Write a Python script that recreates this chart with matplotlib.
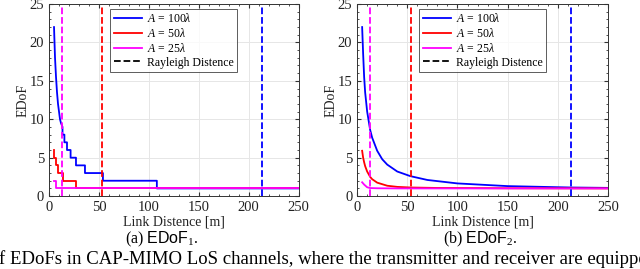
import numpy as np
import matplotlib.pyplot as plt

plt.rcParams['font.family'] = ['Liberation Serif', 'DejaVu Serif']
plt.rcParams['mathtext.fontset'] = 'custom'
plt.rcParams['mathtext.rm'] = 'Liberation Serif'
plt.rcParams['mathtext.it'] = 'Liberation Serif:italic'
plt.rcParams['mathtext.bf'] = 'Liberation Serif:bold'
plt.rcParams['mathtext.sf'] = 'Liberation Sans'

# EDoF_1: step curves (distance where each level ends, level)
blue_step_d = [5, 13.5, 13.5, 15.4, 15.4, 18, 18, 21.6, 21.6, 27, 27, 36, 36, 54, 54, 108, 108, 250]
blue_step_y = [22, 9, 8, 8, 7, 7, 6, 6, 5, 5, 4, 4, 3, 3, 2, 2, 1, 1]
red_step_d = [5, 5.4, 5.4, 6.75, 6.75, 9, 9, 13.5, 13.5, 27, 27, 250]
red_step_y = [6, 6, 5, 5, 4, 4, 3, 3, 2, 2, 1, 1]
mag_step_d = [5, 6.75, 6.75, 250]
mag_step_y = [2, 2, 1, 1]

# blue smooth part of the step curve (fast drop at short distance)
blue_head_d = [5, 6, 7, 8, 9, 10, 11, 12, 13.5]
blue_head_y = [22, 18, 15.5, 13.5, 12, 11, 10, 9.5, 9]

# EDoF_2: smooth curves
blue_d = [5, 6, 7, 8, 10, 13, 15, 20, 25, 30, 40, 53, 70, 100, 150, 213, 250]
blue_y = [22, 18.5, 15.5, 13.5, 11, 8.6, 7.6, 5.9, 4.8, 4.1, 3.2, 2.6, 2.1, 1.65, 1.3, 1.12, 1.07]
red_d = [5, 6, 7, 8, 10, 13, 15, 20, 30, 40, 53, 80, 150, 250]
red_y = [5.9, 5.0, 4.4, 3.9, 3.2, 2.5, 2.2, 1.75, 1.35, 1.2, 1.12, 1.06, 1.02, 1.0]
mag_d = [5, 7, 10, 13, 20, 40, 250]
mag_y = [1.8, 1.5, 1.15, 1.05, 1.02, 1.0, 1.0]

rayleigh = [213, 53.3, 13.3]
colors = ['#0000ff', '#ff0000', '#ff00ff']
labels = [r'$A$ = 100$\lambda$', r'$A$ = 50$\lambda$', r'$A$ = 25$\lambda$']

fig = plt.figure(figsize=(6.4, 2.69), dpi=100)
ax1 = fig.add_axes([0.0766, 0.271, 0.39, 0.714])
ax2 = fig.add_axes([0.558, 0.271, 0.392, 0.714])

bd = blue_head_d + blue_step_d[1:]
by = blue_head_y + blue_step_y[1:]
ax1.plot(bd, by, color=colors[0], lw=1.3, label=labels[0])
ax1.plot(red_step_d, red_step_y, color=colors[1], lw=1.3, label=labels[1])
ax1.plot(mag_step_d, mag_step_y, color=colors[2], lw=1.3, label=labels[2])

ax2.plot(blue_d, blue_y, color=colors[0], lw=1.3, label=labels[0])
ax2.plot(red_d, red_y, color=colors[1], lw=1.3, label=labels[1])
ax2.plot(mag_d, mag_y, color=colors[2], lw=1.3, label=labels[2])

for ax in (ax1, ax2):
    for r, c in zip(rayleigh, colors):
        ax.axvline(r, color=c, ls='--', lw=1.3)
    ax.plot([], [], 'k--', lw=1.3, label='Rayleigh Distence')
    ax.set_xlim(0, 250)
    ax.set_ylim(0, 25)
    ax.set_xticks([0, 50, 100, 150, 200, 250])
    ax.set_yticks([0, 5, 10, 15, 20, 25])
    ax.set_xticks(np.arange(0, 251, 10), minor=True)
    ax.set_yticks(np.arange(0, 26, 1), minor=True)
    ax.grid(True, which='major', color='#e6e6e6', lw=0.7)
    ax.set_axisbelow(True)
    ax.tick_params(direction='in', which='both', top=True, right=True,
                   labelsize=10.5, colors='#333333', labelcolor='#222222')
    ax.tick_params(which='major', length=3)
    ax.tick_params(which='minor', length=1.5)
    for s in ax.spines.values():
        s.set_color('#333333')
        s.set_linewidth(0.7)
    ax.set_xlabel('Link Distence [m]', fontsize=10, color='#222222', labelpad=1)
    ax.set_ylabel('EDoF', fontsize=10, color='#222222', labelpad=0)
    leg = ax.legend(loc='upper center', fontsize=8.5, frameon=True, fancybox=False,
                    edgecolor='#333333', borderpad=0.3, labelspacing=0.15,
                    handlelength=2.4, handletextpad=0.4, borderaxespad=0.4)
    leg.get_frame().set_linewidth(0.7)

fig.text(162 / 640, 1 - 239 / 269, r'(a) $\mathsf{EDoF}_1$.', ha='center', va='center', fontsize=11.5)
fig.text(480 / 640, 1 - 239 / 269, r'(b) $\mathsf{EDoF}_2$.', ha='center', va='center', fontsize=11.5)
fig.text(-1 / 640, 1 - 259 / 269,
         'f EDoFs in CAP-MIMO LoS channels, where the transmitter and receiver are equipped',
         ha='left', va='center', fontsize=13.5)

fig.savefig('out.png', dpi=100)
